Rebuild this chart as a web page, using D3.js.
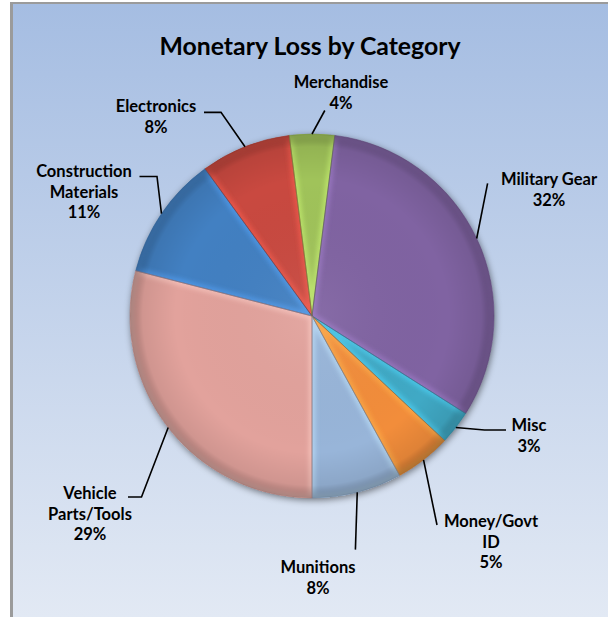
<!DOCTYPE html>
<html>
<head>
<meta charset="utf-8">
<script src="https://cdn.jsdelivr.net/npm/d3@7"></script>
<style>
  html, body { margin: 0; padding: 0; background: #ffffff; }
  svg { display: block; }
</style>
</head>
<body>
<svg id="chart" width="608" height="617"></svg>
<script>
// ---- DATA ----
const title = "Monetary Loss by Category";
const categories = ["Construction Materials", "Electronics", "Merchandise", "Military Gear", "Misc", "Money/Govt ID", "Munitions", "Vehicle Parts/Tools"];
const values = [11, 8, 4, 32, 3, 5, 8, 29];
const labelLines = [["Construction", "Materials"], ["Electronics"], ["Merchandise"], ["Military Gear"], ["Misc"], ["Money/Govt", "ID"], ["Munitions"], ["Vehicle", "Parts/Tools"]];

// ---- STYLE / LAYOUT ----
const colors = ["#4380c2", "#c94a3f", "#a0c35a", "#8064a2", "#3fa9c5", "#f28d3a", "#98b5d9", "#e2a29c"];
const W = 608, H = 617;
const cx = 312, cy = 316, R = 182;
const startDeg = -75.6;
// label layout: text center x, first baseline y, leader end point, optional horizontal tail end x
const labelLayout = [
  { tx: 84,  ty: 177, ex: 157,   ey: 176.5, hx: 139.5 },
  { tx: 156, ty: 112, ex: 221,   ey: 112.4, hx: 204 },
  { tx: 341, ty: 88,  ex: 324.8, ey: 110.5, hx: null },
  { tx: 549, ty: 185, ex: 487.6, ey: 183.3, hx: null },
  { tx: 529, ty: 431, ex: 484.5, ey: 430,   hx: 506 },
  { tx: 491, ty: 527, ex: 437,   ey: 525,   hx: null },
  { tx: 318, ty: 573, ex: 355.4, ey: 549.6, hx: null },
  { tx: 90,  ty: 499, ex: 141.5, ey: 497,   hx: 128 }
];
const lineH = 20.7;
const fontFam = "Lato, 'Open Sans', sans-serif";

const svg = d3.select("#chart");
const defs = svg.append("defs");

// background gradient
const bg = defs.append("linearGradient").attr("id", "bg").attr("x1", 0).attr("y1", 0).attr("x2", 0).attr("y2", 1);
bg.append("stop").attr("offset", "0%").attr("stop-color", "#a5bde2");
bg.append("stop").attr("offset", "100%").attr("stop-color", "#e2e9f4");

svg.append("rect").attr("x", 10).attr("y", 2).attr("width", W - 10).attr("height", H - 2).attr("fill", "#9b9b9b");
svg.append("rect").attr("x", 13).attr("y", 4).attr("width", W - 13).attr("height", H - 4).attr("fill", "url(#bg)");

// title
svg.append("text")
  .attr("x", 310).attr("y", 55)
  .attr("text-anchor", "middle")
  .attr("font-family", fontFam).attr("font-weight", 700).attr("font-size", 24.8)
  .attr("fill", "#000")
  .text(title);

// pie
const pie = d3.pie().sort(null).value(d => d)
  .startAngle(startDeg * Math.PI / 180)
  .endAngle(startDeg * Math.PI / 180 + 2 * Math.PI);
const arcs = pie(values);
const arc = d3.arc().innerRadius(0).outerRadius(R);

// filters
const shadow = defs.append("filter").attr("id", "shadow").attr("x", "-20%").attr("y", "-20%").attr("width", "140%").attr("height", "140%");
shadow.append("feGaussianBlur").attr("in", "SourceAlpha").attr("stdDeviation", 3.5).attr("result", "b");
shadow.append("feOffset").attr("in", "b").attr("dx", 1).attr("dy", 2).attr("result", "o");
shadow.append("feComponentTransfer").attr("in", "o").attr("result", "s")
  .append("feFuncA").attr("type", "linear").attr("slope", 0.5);
const merge = shadow.append("feMerge");
merge.append("feMergeNode").attr("in", "s");
merge.append("feMergeNode").attr("in", "SourceGraphic");

const blur = defs.append("filter").attr("id", "blur").attr("x", "-10%").attr("y", "-10%").attr("width", "120%").attr("height", "120%");
blur.append("feGaussianBlur").attr("stdDeviation", 2.2);

const rim = defs.append("radialGradient").attr("id", "rim").attr("cx", "50%").attr("cy", "50%").attr("r", "50%");
rim.append("stop").attr("offset", "0%").attr("stop-color", "#fff").attr("stop-opacity", 0.06);
rim.append("stop").attr("offset", "75%").attr("stop-color", "#000").attr("stop-opacity", 0.0);
rim.append("stop").attr("offset", "93%").attr("stop-color", "#000").attr("stop-opacity", 0.08);
rim.append("stop").attr("offset", "100%").attr("stop-color", "#000").attr("stop-opacity", 0.3);

const pieG = svg.append("g").attr("transform", `translate(${cx},${cy})`);

arcs.forEach((a, i) => {
  defs.append("clipPath").attr("id", "clip" + i).append("path").attr("d", arc(a));
});

const base = pieG.append("g").attr("filter", "url(#shadow)");
base.selectAll("path.slice").data(arcs).join("path")
  .attr("class", "slice")
  .attr("d", arc)
  .attr("fill", (d, i) => colors[i]);

// inner bevel highlight per slice
const bevel = pieG.append("g");
arcs.forEach((a, i) => {
  bevel.append("g").attr("clip-path", `url(#clip${i})`)
    .append("path")
    .attr("d", arc(a))
    .attr("fill", "none")
    .attr("stroke", d3.color(colors[i]).brighter(0.7))
    .attr("stroke-width", 7)
    .attr("stroke-opacity", 0.55)
    .attr("filter", "url(#blur)");
});

// rim darkening
pieG.append("circle").attr("r", R).attr("fill", "url(#rim)");

// slice outlines
pieG.selectAll("path.edge").data(arcs).join("path")
  .attr("class", "edge")
  .attr("d", arc)
  .attr("fill", "none")
  .attr("stroke", (d, i) => d3.color(colors[i]).darker(0.9))
  .attr("stroke-opacity", 0.6)
  .attr("stroke-width", 0.9);

// leader lines
const fmt = d3.format(".0%");
const total = d3.sum(values);
const leaders = svg.append("g").attr("fill", "none").attr("stroke", "#000").attr("stroke-width", 1.6);
arcs.forEach((a, i) => {
  const mid = (a.startAngle + a.endAngle) / 2;
  const sx = cx + R * Math.sin(mid), sy = cy - R * Math.cos(mid);
  const L = labelLayout[i];
  const pts = [[sx, sy], [L.ex, L.ey]];
  if (L.hx !== null) pts.push([L.hx, L.ey]);
  leaders.append("path").attr("d", d3.line()(pts));
});

// labels
const labels = svg.append("g")
  .attr("font-family", fontFam).attr("font-weight", 700).attr("font-size", 16.5)
  .attr("text-anchor", "middle").attr("fill", "#000");
arcs.forEach((a, i) => {
  const L = labelLayout[i];
  const lines = labelLines[i].concat([fmt(values[i] / total)]);
  const t = labels.append("text").attr("x", L.tx).attr("y", L.ty);
  lines.forEach((ln, k) => {
    t.append("tspan").attr("x", L.tx).attr("y", L.ty + k * lineH).text(ln);
  });
});
</script>
</body>
</html>
